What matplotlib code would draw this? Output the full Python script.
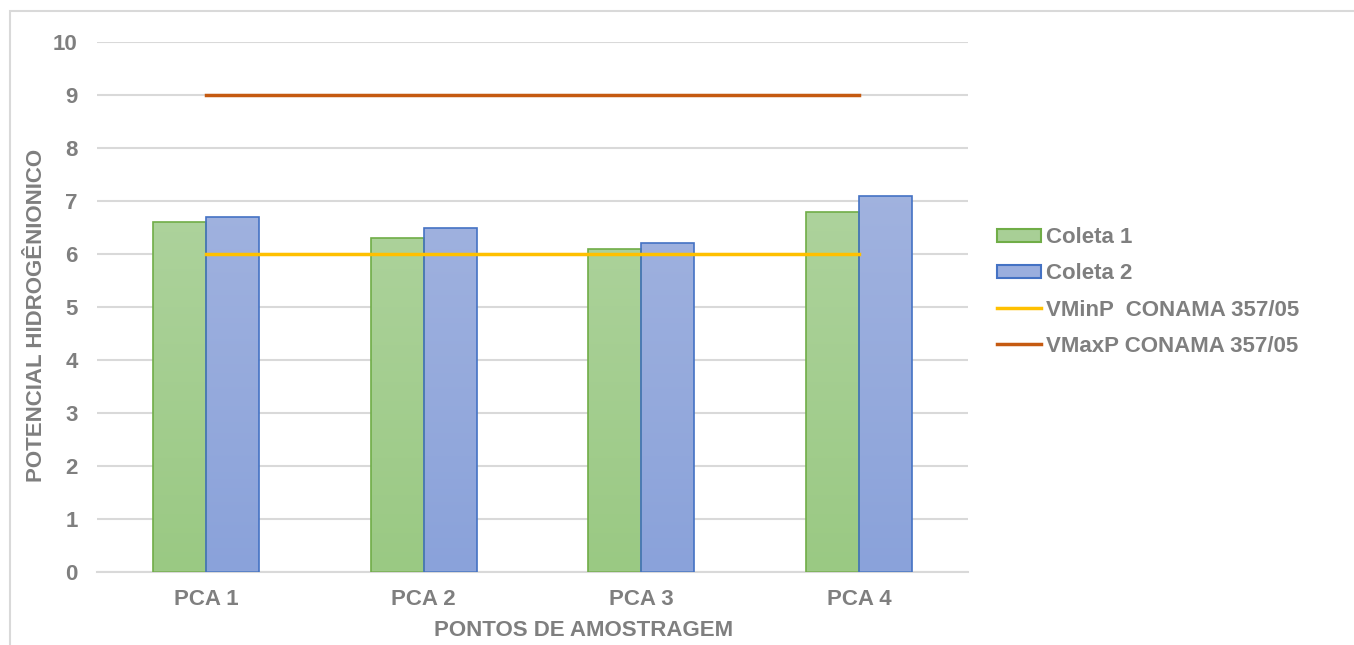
import numpy as np
import matplotlib.pyplot as plt
from matplotlib.patches import Patch, Rectangle
from matplotlib.lines import Line2D
from matplotlib.colors import LinearSegmentedColormap

plt.rcParams['font.family'] = ['Liberation Sans', 'DejaVu Sans']
plt.rcParams['font.weight'] = 'bold'

pontos = ['PCA 1', 'PCA 2', 'PCA 3', 'PCA 4']
coleta1 = [6.6, 6.3, 6.1, 6.8]
coleta2 = [6.7, 6.5, 6.2, 7.1]
vmin_conama = [6, 6, 6, 6]
vmax_conama = [9, 9, 9, 9]

grey = '#7f7f7f'
W, H = 1354, 645
fig = plt.figure(figsize=(W / 100, H / 100), dpi=100)
ax = fig.add_axes([97 / W, 1 - 572 / H, 871 / W, 530 / H])

# outer chart frame (right/bottom edges fall outside the image)
fig.patches.append(Rectangle((10 / W, -0.1), 1.2, 1 - 11 / H + 0.1,
                             transform=fig.transFigure, fill=False,
                             edgecolor='#d9d9d9', linewidth=1.5))

x = np.arange(len(pontos))
w = 0.243


def gradient_bars(xpos, vals, top, bottom, edge):
    cmap = LinearSegmentedColormap.from_list('g', [bottom, top])
    grad = np.linspace(0, 1, 256).reshape(-1, 1)
    bars = ax.bar(xpos, vals, w, color='none', edgecolor=edge,
                  linewidth=1.2, zorder=3)
    for b, v in zip(bars, vals):
        im = ax.imshow(grad, cmap=cmap, origin='lower', aspect='auto',
                       extent=(b.get_x(), b.get_x() + w, 0, 10), zorder=2)
        im.set_clip_path(b)
    return bars


gradient_bars(x - w / 2, coleta1, '#b6d7a8', '#9ac983', '#70ad47')
gradient_bars(x + w / 2, coleta2, '#aab9e1', '#8aa2da', '#4472c4')

ax.plot(x, vmin_conama, color='#ffc000', linewidth=2.5, zorder=4)
ax.plot(x, vmax_conama, color='#c55a11', linewidth=2.5, zorder=4)

ax.set_xlim(-0.5, 3.5)
ax.set_ylim(0, 10)
ax.set_yticks(range(0, 11))
ax.set_xticks(x)
ax.set_xticklabels(pontos)
ax.grid(axis='y', color='#d9d9d9', linewidth=1.5, zorder=0)
ax.set_axisbelow(True)
for s in ['top', 'right', 'left']:
    ax.spines[s].set_visible(False)
ax.spines['bottom'].set_color('#d9d9d9')
ax.spines['bottom'].set_linewidth(1.5)
ax.tick_params(axis='y', length=0, pad=14, labelsize=16, labelcolor=grey)
ax.tick_params(axis='x', length=0, pad=12, labelsize=16, labelcolor=grey)

fig.text(584 / W, 1 - 630 / H, 'PONTOS DE AMOSTRAGEM', ha='center',
         va='center', fontsize=16, color=grey, fontweight='bold')
fig.text(37 / W, 1 - 315 / H, 'POTENCIAL HIDROGÊNIONICO', ha='center',
         va='center', rotation=90, fontsize=16, color=grey,
         fontweight='bold')

handles = [
    Patch(facecolor='#a8cf96', edgecolor='#70ad47', linewidth=1.5),
    Patch(facecolor='#9aaede', edgecolor='#4472c4', linewidth=1.5),
    Line2D([], [], color='#ffc000', linewidth=2.5),
    Line2D([], [], color='#c55a11', linewidth=2.5),
]
labels = ['Coleta 1', 'Coleta 2', 'VMinP  CONAMA 357/05',
          'VMaxP CONAMA 357/05']
leg = fig.legend(handles, labels, loc='center left',
                 bbox_to_anchor=(997 / W, 1 - 292 / H), frameon=False,
                 borderaxespad=0, borderpad=0,
                 fontsize=16, labelcolor=grey, handlelength=2.0,
                 handleheight=0.55, handletextpad=0.2, labelspacing=0.68)

fig.savefig('out.png', dpi=100, facecolor='white')
